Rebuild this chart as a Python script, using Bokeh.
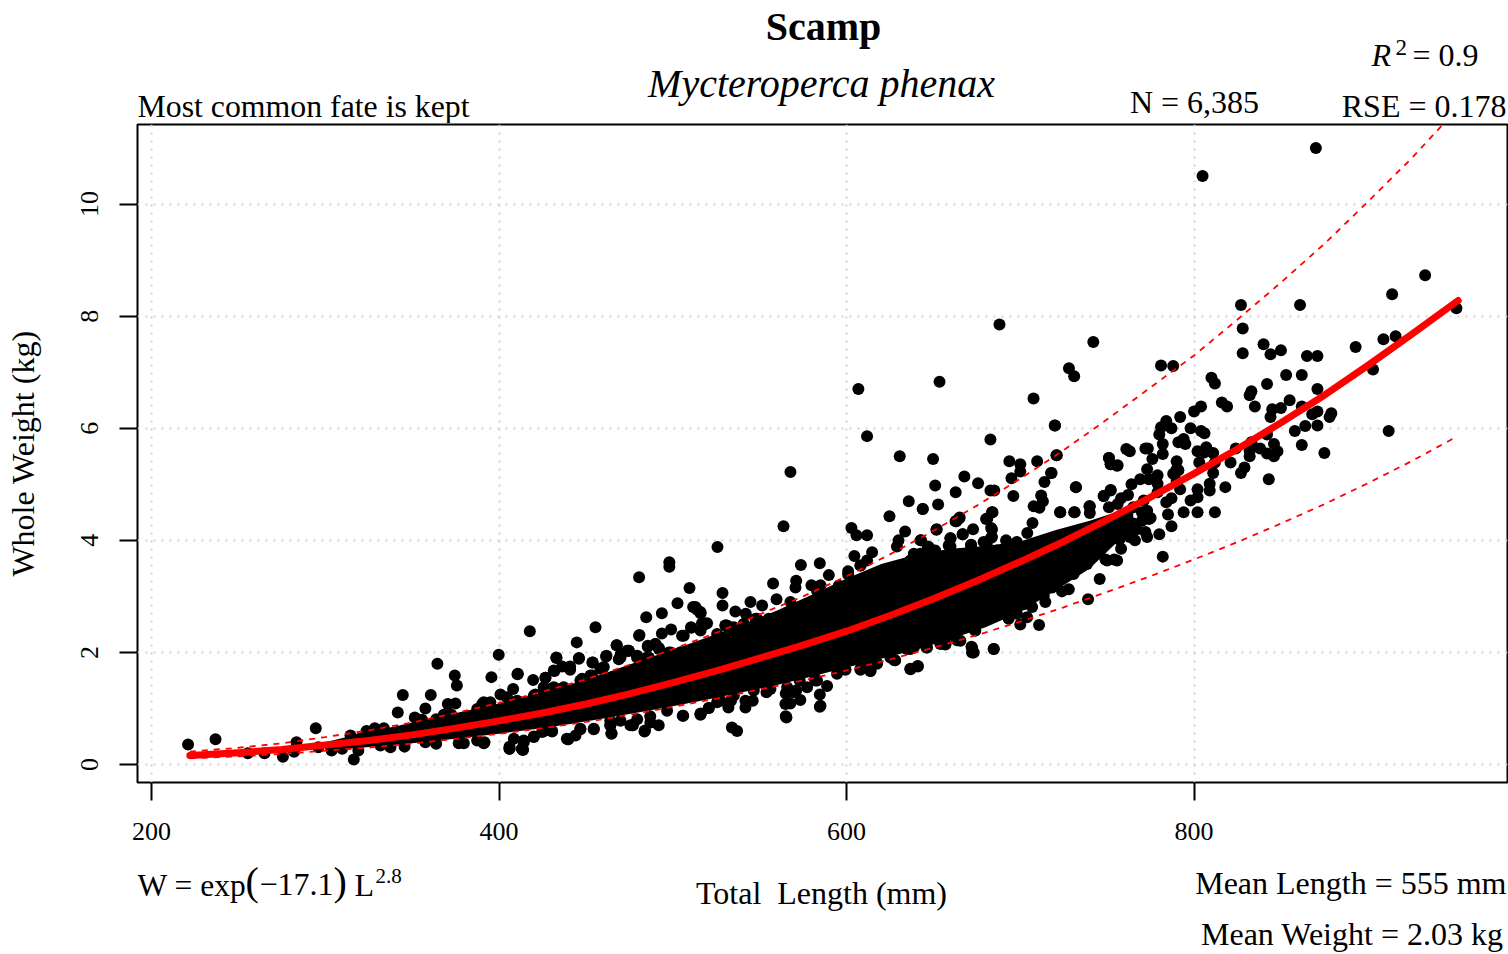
from bokeh.plotting import figure
from bokeh.layouts import column
from bokeh.models import FixedTicker, Range1d
from bokeh.core.properties import value
from bokeh.embed import file_html
from bokeh.resources import INLINE

X_TICKS = [200, 400, 600, 800]
Y_TICKS = [0, 2, 4, 6, 8, 10]

# Mean and prediction curves
curve_len = [222,250,275,300,325,350,375,400,425,450,475,500,525,550,575,600,625,650,675,700,725,750,775,800,825,850,875,900,925,952]
curve_wt = [.16,.21,.27,.35,.43,.53,.65,.78,.92,1.08,1.26,1.46,1.67,1.90,2.13,2.38,2.66,2.96,3.28,3.62,3.98,4.37,4.77,5.19,5.63,6.10,6.59,7.12,7.67,8.28]
band_len = [222,250,275,300,325,350,375,400,425,450,475,500,525,550,575,600,625,650,675,700,725,750,775,800,825,850,875,900,925,950]
upper_wt = [.23,.30,.38,.49,.61,.75,.92,1.10,1.30,1.52,1.78,2.06,2.35,2.68,3.00,3.36,3.75,4.17,4.62,5.10,5.61,6.16,6.73,7.30,7.94,8.60,9.29,10.04,10.81,11.65]
lower_wt = [.113,.148,.19,.247,.303,.374,.458,.55,.649,.761,.888,1.03,1.177,1.34,1.50,1.68,1.875,2.087,2.31,2.55,2.806,3.08,3.363,3.66,3.97,4.30,4.646,5.02,5.41,5.83]

# Limits of the overplotted, fully black part of the cloud
core_len = [300,320,340,360,380,400,420,440,460,480,500,520,540,560,580,600,620,640,660,680,700,720,740,755,765]
core_lo = [.25,.30,.35,.41,.48,.55,.63,.72,.82,.93,1.04,1.16,1.29,1.42,1.57,1.73,1.89,2.05,2.24,2.45,2.72,3.1,3.5,3.95,4.2]
core_hi = [.40,.55,.68,.82,.95,1.09,1.25,1.42,1.62,1.84,2.05,2.27,2.5,2.75,3.03,3.32,3.58,3.75,3.85,3.9,3.98,4.18,4.35,4.5,4.6]

# Individually readable fish: small lengths
small_len = [221,236.8,255.4,265,275.6,294.5,283.4,282,303.6,309.7,316.4,314.5,319.9,323.7,328.5,333.7,296,319,331.7,337.5,345.6,341.3,344.6,341.7,360.7,357.6,364.5,374.5,375.7,374.9,370.5,351.5,355.7,363.8,368.2,372.6,357.6,363.8,376.8,379.7,391.2,387.4,406,413.8,414.2,408.5,420,425.7,430.5,439.7,446.8,454.5,464,464.7,475.6,399.8,395.6,417.7,455.5,444.7,445.9,433,431.9,436.3,440.9,440.9,410.6,419.6,426.7,408.1,400.8,391.2,395,420.9,425.7,431.5,437.2,447.8,453.9,461.6,467.7,468.9,473.7,460.3,453.5,387.4,404.6,534,537,565,585,571,567.6,565,516,506,484,477,439,413,406,444,464,487,527.5,546,555,573,582,596]
small_wt = [.36,.45,.2,.2,.14,.65,.4,.23,.25,.28,.09,.52,.46,.6,.65,.65,.31,.25,.34,.31,.32,.55,1.24,.93,1.24,1.0,1.8,1.59,1.41,1.09,1.08,.84,.8,.81,.89,.89,.4,.37,.38,.38,.38,.43,.28,.27,.4,.46,.5,.6,.6,.45,.63,.63,.7,.55,.7,1.96,1.56,2.38,2.45,2.18,1.89,1.9,1.67,1.75,1.75,1.69,1.61,1.51,1.55,1.35,1.25,1.11,1.11,1.25,1.38,1.38,1.38,1.53,1.82,1.93,2.13,1.88,2.03,1.74,1.59,.99,1.2,.66,.6,.86,1.05,1.32,1.09,1.27,.91,.87,.61,.7,.46,.28,.32,.52,.78,.86,1.14,1.14,1.41,1.5,1.5,1.85]

# Individually readable fish: middle lengths
mid_len = [567.7,563.7,525.7,498,498,480.6,509.6,502.7,493.7,484.7,480.6,493.7,499,511.7,514,516,528.6,528.6,536,542,544.7,551.4,557.7,559.7,571,570.6,573.7,584.6,579.8,585,589.8,567.7,547.6,555.2,540.9,530.3,535.1,517.8,510.6,506.3,516,490,485.6,492,474.7,479.5,486.2,498.7,504.4,525.5,470,602.8,605.7,611.8,604.5,614.7,600.9,600.9,608,611.8,630.6,649.8,682.8,693.7,700,700,709.7,719.8,720.8,717.7,713.9,694.9,667.8,651,675.7,662.8,682.8,685,696,635.8,652.7,643.9,624.7,633.7,651.9,664.8,662.7,684,681,672.8,666.9,683.2,659.8,642.9,629.9,629,646.7,651,659.8,671.7,683,691.8,712,713,707.7,711,732,751,752,755.7,752,748,739.8,722.9,731.3,707,704,698,739,745.7,727.9,724,718.3,714.4,713.5,710.8,703.9,706.8,702,698,693.3,700,684.7,671.9,673.2,665.5,656.9,661.7,674,641,636.8,646,628,617.6,613.8,608,599.4,636.8,750,755.7,738.4,730.7,638.7,643.5,654,661.7,667.5,674,681,686.6,606.8,653.5,688,707.6]
mid_wt = [5.22,4.25,3.88,3.61,3.53,3.34,3.15,2.88,2.7,2.63,2.3,2.34,2.41,2.81,2.76,2.7,3.06,2.84,2.73,2.69,2.9,2.84,3.23,2.95,3.28,3.16,3.56,3.59,3.2,3.2,3.38,2.9,2.6,2.57,2.51,2.48,2.45,2.52,2.44,2.3,2.39,2.15,2.1,2.06,2.03,1.94,1.91,2.0,2.0,2.33,1.97,4.22,4.09,4.09,3.72,3.79,3.45,3.39,3.55,5.86,5.5,5.45,5.8,5.41,5.36,5.23,5.41,6.05,5.52,5.2,5.04,5.11,5.14,4.98,5.02,4.86,4.89,4.89,4.79,4.7,4.64,4.56,4.43,4.16,4.2,4.39,4.34,4.5,4.39,4.2,4.11,4.22,4.04,4.0,4.0,3.89,3.89,3.82,3.89,3.92,4.04,4.0,4.8,4.7,4.61,4.58,4.95,5.47,5.36,5.33,4.89,4.79,4.61,4.5,4.5,4.31,4.13,3.97,2.95,3.31,3.13,3.09,3.16,2.9,3.01,2.49,2.63,2.81,2.86,2.69,2.6,2.5,2.06,2.1,2.0,2.21,2.14,2.3,2.39,1.75,1.7,2.09,1.86,1.81,1.67,1.69,1.69,2.06,3.64,3.64,3.58,3.4,3.76,3.7,3.58,3.64,3.7,3.7,3.88,3.82,6.7,6.83,7.85,6.53]

# Individually readable fish: large lengths
big_len = [870.1,804.9,742,728,731,720,721,718,781,788,827,828,828,840,844,850,861,865,871,893,909,916,914,933,951,903,912,853,862,842,871,810,812,833,832,816,819,835,855,804,800,792,784,781,787,780,798,804,806,845,850,844,862,868,871,879,878,864,871,858,862,875,842,846,848,846,842,838,833,832,832,824,821,829,827,843,818,812,811,807,806,802,803,794,791,795,782,782,772,773.4,761,763,751,752,756,776,790,790,773,779,791,788,769,774,764,732,779,790,792,802,811,809,809,798,802,794,802,812,785,787,780,773,763,782,752,748,758,762,771,779,787,773,774,784,751,765,756,740,740,723,731,763,767,757,754,749]
big_wt = [11.0,10.5,7.54,7.07,6.93,6.05,5.52,5.2,7.12,7.11,8.2,7.78,7.34,7.5,7.32,7.39,8.2,7.29,7.29,7.45,7.59,7.64,8.39,8.73,8.14,7.05,5.95,6.95,6.95,6.79,6.7,6.9,6.8,6.66,6.59,6.46,6.39,6.39,6.5,6.39,6.3,6.2,6.13,6.02,6.0,5.89,6.0,5.95,5.91,6.34,6.36,6.2,6.39,6.25,6.3,6.27,6.2,6.04,6.05,5.95,5.7,5.56,5.89,5.72,5.59,5.5,5.55,5.64,5.75,5.6,5.5,5.64,5.39,5.3,5.2,5.09,4.95,5.39,5.56,5.66,5.57,5.59,5.39,5.81,5.75,5.72,5.72,5.54,5.64,5.64,5.63,5.59,5.47,5.36,5.34,5.45,5.41,5.27,5.27,5.16,5.25,5.19,5.09,5.09,5.0,4.95,5.01,5.06,4.91,4.91,5.2,5.01,4.89,4.71,4.77,4.5,4.5,4.5,4.46,4.25,4.11,4.06,4.06,3.71,4.9,4.79,4.75,4.81,4.71,4.86,4.75,4.53,4.38,4.68,4.59,4.59,4.65,4.61,4.49,4.5,4.5,4.3,4.2,4.01,3.66,3.66]

edge_len = [410.8,426.7,431.5,433,440.7,446,453.7,461.8,467.7,474.6,469.9,480.8,485.6,490,492,505.3,510.5,513,515.9,516.8,519.7,530.3,479.4,485.2,497.7,504.4,446.8,452.6,458.3,435.3,429.6,420,410.4,390.3,395,
            391.6,406,413.7,414.2,420,424.8,430.5,439.7,446.8,454.5,464.7,464.1,469.9,476.8,483.7,491.9,487.1,505.7,515.9,520.7,532,496.7,479.5,
            520.7,516,533.5,541.8,541.8,553.9,564.8,565.4,573.4,569.2,584.6,584.6,588.8,583,577.3,598.4,608,613.7,617.5,627.5,636.7,641,646.3,656.9,663.6,672.2,672.2,684.7,674.1,658.8,654,634.8,638.7,625.2,611.8,594.5,582,565.8,556.2,546.6,535.1,525.5,
            548.5,555.2,531.2,518.8,540.8,583,595.5,608,611.8,642.5,647.3,651.7,643.8,663.2,665.1,666.8,659.8,658.8,671.6,680.3,683.7,683.7,683.7,678.9,642.5,636.7,654,663.6,675.1,646.3,760,765,770,775,770,766,772,758]
edge_wt = [1.62,1.55,1.68,1.91,1.72,1.9,1.82,1.94,2.13,2.03,1.91,2.31,2.12,2.15,2.08,2.3,2.45,2.81,2.72,2.52,2.52,2.48,1.91,1.91,2.0,2.0,1.5,1.59,1.71,1.35,1.35,1.23,1.14,1.08,1.05,
           .40,.28,.26,.43,.49,.58,.59,.45,.64,.64,.56,.7,.78,.7,.59,.7,.75,.87,.89,1.01,1.02,.96,.81,
           1.01,.9,1.14,1.02,1.14,1.29,1.08,.84,1.15,1.29,1.25,1.03,1.4,1.5,1.38,1.71,1.71,1.67,1.8,1.86,1.71,1.76,2.09,2.15,2.22,2.09,2.0,2.06,2.39,2.33,2.15,2.06,2.09,1.91,1.8,1.62,1.53,1.38,1.35,1.32,1.23,1.11,
           2.6,2.6,2.48,2.51,2.51,3.1,3.19,3.55,3.64,4.0,3.88,4.19,4.56,4.34,4.41,4.11,4.04,3.91,3.91,4.38,4.5,4.2,4.06,3.97,3.76,3.64,3.58,3.67,3.73,3.7,4.2,4.3,4.35,4.4,4.5,4.0,4.15,3.85]

SERIF = "Liberation Serif"
TOP = 123      # height of the strip above the plot
SPLIT = 855    # page row where the strip below the plot starts
W = 1508
H = 954
FRAME_L = 137  # the column lines all frames up with the main plot's frame
FRAME_R = 1507

p = figure(width=W, height=SPLIT - TOP, output_backend="svg", toolbar_location=None,
           x_range=Range1d(191.9, 980.4), y_range=Range1d(-0.32, 11.42),
           min_border_left=FRAME_L, min_border_right=W - FRAME_R, min_border_top=1, min_border_bottom=SPLIT - 782,
           background_fill_color="white", border_fill_color="white")
p.outline_line_color = "black"
p.outline_line_width = 2
p.outline_line_alpha = 1

for ax, ticks in ((p.xaxis[0], X_TICKS), (p.yaxis[0], Y_TICKS)):
    ax.ticker = FixedTicker(ticks=ticks)
    ax.axis_line_color = None
    ax.major_tick_in = 0
    ax.major_tick_out = 18
    ax.major_tick_line_color = "black"
    ax.major_tick_line_width = 2
    ax.minor_tick_line_color = None
    ax.major_label_text_font = SERIF
    ax.major_label_text_font_size = "26px"
    ax.major_label_text_color = "black"
p.xaxis[0].major_label_standoff = 22
p.yaxis[0].major_label_standoff = 21
p.yaxis[0].major_label_orientation = "vertical"
p.yaxis[0].axis_label = "Whole Weight (kg)"
p.yaxis[0].axis_label_text_font = SERIF
p.yaxis[0].axis_label_text_font_size = "32px"
p.yaxis[0].axis_label_text_font_style = "normal"
p.yaxis[0].axis_label_text_color = "black"
p.yaxis[0].axis_label_standoff = 38

for g in (p.xgrid[0], p.ygrid[0]):
    g.grid_line_color = "#d3d3d3"
    g.grid_line_dash = "2 6"
    g.grid_line_width = 2
p.xgrid[0].ticker = FixedTicker(ticks=X_TICKS)
p.ygrid[0].ticker = FixedTicker(ticks=Y_TICKS)

p.varea(x=core_len, y1=core_lo, y2=core_hi, fill_color="black")
for xs, ys in ((small_len, small_wt), (mid_len, mid_wt), (big_len, big_wt), (edge_len, edge_wt)):
    p.scatter(xs, ys, marker="circle", size=12, fill_color="black", line_color=None)

p.line(band_len, upper_wt, line_color="#ff0000", line_width=1.8, line_dash="6 6")
p.line(band_len, lower_wt, line_color="#ff0000", line_width=1.8, line_dash="6 6")
p.line(curve_len, curve_wt, line_color="#ff0000", line_width=7, line_cap="round", line_join="round")


def strip(height, y_start, y_end):
    """A bare figure whose data units are page pixels, to hold the texts round the plot."""
    f = figure(width=W, height=height, output_backend="svg", toolbar_location=None,
               x_range=Range1d(FRAME_L, FRAME_R), y_range=Range1d(y_start, y_end),
               x_axis_type=None, y_axis_type=None,
               min_border=0, min_border_left=0, min_border_right=0, min_border_top=0, min_border_bottom=0)
    f.outline_line_color = None
    f.grid.visible = False
    return f


def put(f, text, px, py, size=32, align="left", style="normal"):
    # the baseline of an SVG text lands about 0.36 em below its anchor here
    f.text(x=[px], y=[py - 0.36 * size], text=[text], text_font=value(SERIF), text_font_size=value(f"{size}px"),
           text_font_style=style, text_align=align, text_baseline="alphabetic", text_color="black")


top = strip(TOP, TOP, 0)
put(top, "Scamp", 823, 40, 40, "center", "bold")
put(top, "Mycteroperca phenax", 821, 97, 40, "center", "italic")
put(top, "Most common fate is kept", 137, 117, 31.8)
put(top, "N = 6,385", 1194, 113, 32, "center")
put(top, "R", 1371, 66, 32, "left", "italic")
put(top, "2", 1395, 55, 23)
put(top, "= 0.9", 1412, 66)
put(top, "RSE = 0.178", 1506, 117, 32, "right")

bottom = strip(H - SPLIT, H, SPLIT)
put(bottom, "Total \u00a0Length (mm)", 821, 904, 32, "center")
put(bottom, "W = exp", 137, 896, 31.5)
put(bottom, "(", 245, 895, 40)
put(bottom, "\u221217.1", 259, 896)
put(bottom, ")", 333, 895, 40)
put(bottom, "L", 354, 896)
put(bottom, "2.8", 375, 883, 21)
put(bottom, "Mean Length = 555 mm", 1506, 894, 32, "right")
put(bottom, "Mean Weight = 2.03 kg", 1503, 945, 32, "right")

page = column(top, p, bottom, spacing=0)
open("out.html", "w").write(file_html(page, INLINE))
